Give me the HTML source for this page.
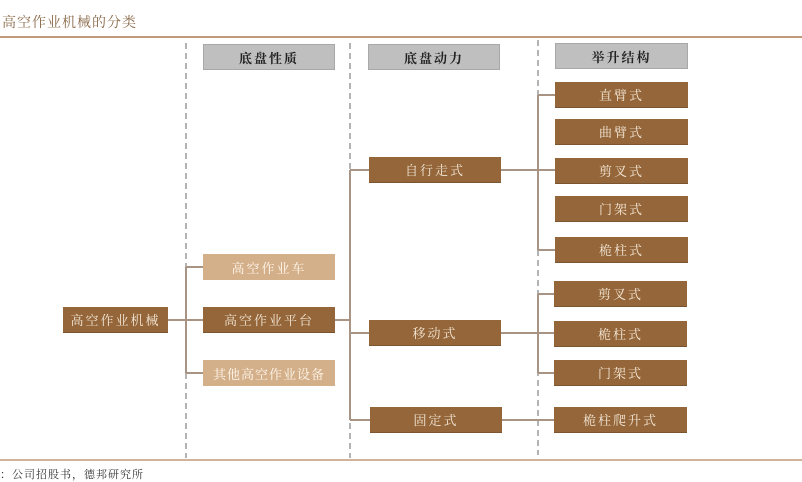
<!DOCTYPE html>
<html><head><meta charset="utf-8"><style>
body{margin:0;width:802px;height:480px;background:#fff;position:relative;overflow:hidden;font-family:"Liberation Serif","Noto Serif CJK SC","Noto Sans CJK SC",serif}
.t{position:absolute;left:2px;top:12px;font-size:14px;color:#8a6a4a;letter-spacing:1px}
.b{position:absolute;display:flex;align-items:center;justify-content:center;font-size:13px;letter-spacing:2px;box-sizing:border-box}
.d{background:#946639;color:#f3e6d6;border-bottom:1px solid #7a5530}
.l{background:#d4b08a;color:#fff7ee}
.h{background:#bfbfbf;color:#222;font-weight:bold;border:1px solid #a8a8a8}
.s{position:absolute;left:0;top:466px;font-size:11px;color:#333;letter-spacing:1px}
svg{position:absolute;left:0;top:0}
</style></head><body>
<div class="t">高空作业机械的分类</div>
<svg width="802" height="480">
<line x1="0" y1="37" x2="802" y2="37" stroke="#c09a78" stroke-width="2"/>
<line x1="0" y1="460" x2="802" y2="460" stroke="#c09a78" stroke-width="1.5"/>
<g stroke="#b4b4b4" stroke-width="2" stroke-dasharray="6,4">
<line x1="186" y1="43" x2="186" y2="458"/><line x1="350" y1="43" x2="350" y2="458"/><line x1="538" y1="40" x2="538" y2="455"/>
</g>
<g stroke="#a89484" stroke-width="2" fill="none">
<path d="M168 320H186M186 267V373M186 267H203M186 320H203M186 373H203"/>
<path d="M335 320H350M350 170V420M350 170H369M350 333H369M350 420H370"/>
<path d="M501 170H555M538 95V250M538 95H555M538 250H555"/>
<path d="M501 333H554M538 294V373M538 294H554M538 373H554"/>
<path d="M502 420H554"/>
</g>
</svg>
<div class="b h" style="left:203px;top:44px;width:132px;height:26px">底盘性质</div>
<div class="b h" style="left:368px;top:44px;width:132px;height:26px">底盘动力</div>
<div class="b h" style="left:555px;top:43px;width:133px;height:26px">举升结构</div>
<div class="b d" style="left:63px;top:307px;width:105px;height:26px">高空作业机械</div>
<div class="b l" style="left:203px;top:254px;width:132px;height:26px">高空作业车</div>
<div class="b d" style="left:203px;top:307px;width:132px;height:26px">高空作业平台</div>
<div class="b l" style="left:203px;top:360px;width:132px;height:26px;letter-spacing:1px">其他高空作业设备</div>
<div class="b d" style="left:369px;top:157px;width:132px;height:26px">自行走式</div>
<div class="b d" style="left:369px;top:320px;width:132px;height:26px">移动式</div>
<div class="b d" style="left:370px;top:407px;width:132px;height:26px">固定式</div>
<div class="b d" style="left:555px;top:82px;width:133px;height:26px">直臂式</div>
<div class="b d" style="left:555px;top:119px;width:133px;height:26px">曲臂式</div>
<div class="b d" style="left:555px;top:158px;width:133px;height:26px">剪叉式</div>
<div class="b d" style="left:555px;top:196px;width:133px;height:26px">门架式</div>
<div class="b d" style="left:555px;top:237px;width:133px;height:26px">桅柱式</div>
<div class="b d" style="left:554px;top:281px;width:133px;height:26px">剪叉式</div>
<div class="b d" style="left:554px;top:321px;width:133px;height:26px">桅柱式</div>
<div class="b d" style="left:554px;top:360px;width:133px;height:26px">门架式</div>
<div class="b d" style="left:554px;top:407px;width:133px;height:26px">桅柱爬升式</div>
<div class="s">：公司招股书，德邦研究所</div>
</body></html>
